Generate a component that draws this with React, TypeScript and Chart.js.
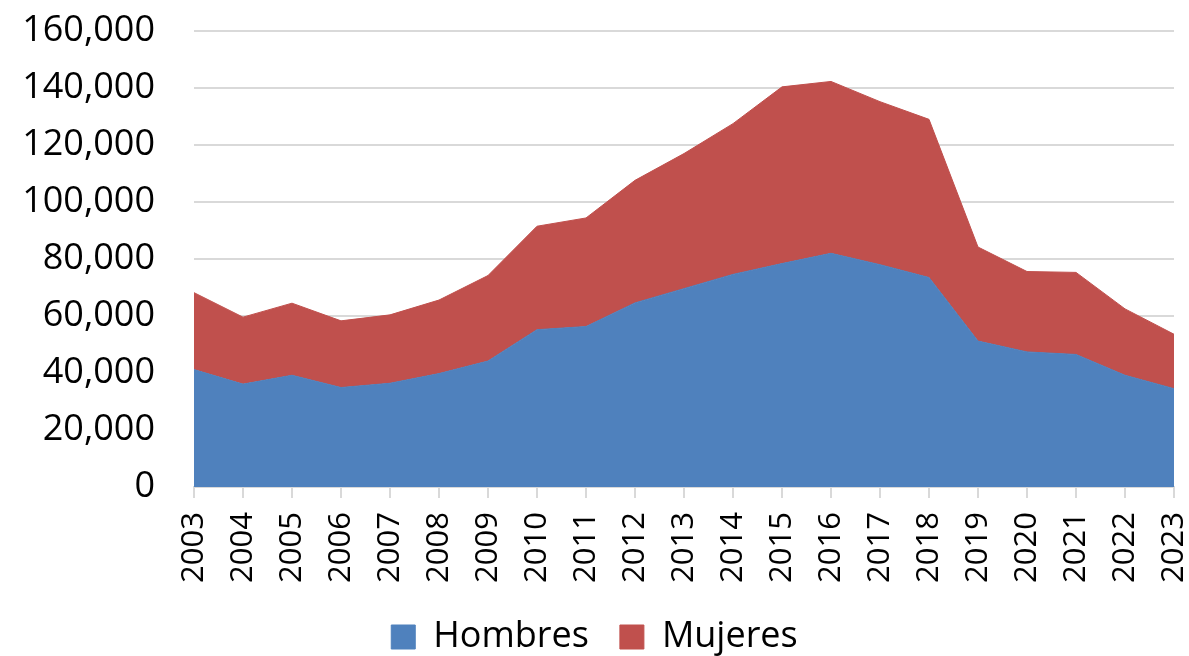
import React, { useEffect, useRef } from "react";
import { Chart, registerables } from "chart.js";

Chart.register(...registerables);

const years = ["2003","2004","2005","2006","2007","2008","2009","2010","2011","2012","2013","2014","2015","2016","2017","2018","2019","2020","2021","2022","2023"];
const hombres = [41200,36100,39200,34900,36400,39800,44200,55200,56300,64600,69600,74600,78400,82000,78000,73500,51200,47400,46500,39200,34500];
const mujeres = [27000,23500,25300,23400,24000,25800,30000,36300,38100,43000,47400,52900,62000,60300,57200,55500,33000,28200,28800,23300,19100];
const yTicks = [0,20000,40000,60000,80000,100000,120000,140000,160000];

const FONT = "'Open Sans', 'Lato', sans-serif";

export default function App() {
  const ref = useRef<HTMLCanvasElement | null>(null);
  useEffect(() => {
    if (!ref.current) return;
    const chart = new Chart(ref.current, {
      type: "line",
      data: {
        labels: years,
        datasets: [
          {
            label: "Hombres",
            data: hombres,
            backgroundColor: "#4F81BD",
            borderColor: "#4F81BD",
            borderWidth: 1,
            fill: "origin",
            pointRadius: 0,
            tension: 0,
          },
          {
            label: "Mujeres",
            data: mujeres,
            backgroundColor: "#C0504D",
            borderColor: "#C0504D",
            borderWidth: 1,
            fill: "-1",
            pointRadius: 0,
            tension: 0,
          },
        ],
      },
      options: {
        animation: false,
        responsive: false,
        maintainAspectRatio: false,
        layout: { padding: 0 },
        plugins: {
          tooltip: { enabled: false },
          legend: {
            position: "bottom",
            maxHeight: 68,
            labels: {
              boxWidth: 24,
              boxHeight: 24,
              padding: 31,
              color: "#000",
              font: { family: FONT, size: 36 },
            },
          },
        },
        scales: {
          x: {
            stacked: true,
            offset: false,
            grid: {
              drawOnChartArea: false,
              drawTicks: true,
              tickLength: 11,
              color: "#d9d9d9",
              lineWidth: 2,
            },
            border: { color: "#d9d9d9", width: 2 },
            ticks: {
              minRotation: 90,
              maxRotation: 90,
              color: "#000",
              padding: 14,
              autoSkip: false,
              font: { family: FONT, size: 31 },
            },
            afterFit: (scale: any) => {
              scale.height = 101;
              scale.paddingLeft = 0;
              scale.paddingRight = 15;
            },
          },
          y: {
            stacked: true,
            min: 0,
            max: 160000,
            afterBuildTicks: (scale: any) => {
              scale.ticks = yTicks.map((v) => ({ value: v }));
            },
            grid: { color: "#d9d9d9", lineWidth: 2, drawTicks: false },
            border: { display: false },
            ticks: {
              color: "#000",
              padding: 39,
              font: { family: FONT, size: 36 },
              callback: (v: any) => Number(v).toLocaleString("en-US"),
            },
            afterFit: (scale: any) => {
              scale.width = 194;
              scale.paddingTop = 31;
              scale.paddingBottom = 0;
            },
          },
        },
      },
    });
    return () => chart.destroy();
  }, []);
  return (
    <div style={{ position: "absolute", left: 0, top: 0, width: 1189, height: 656, background: "#fff" }}>
      <canvas ref={ref} width={1189} height={656} style={{ width: 1189, height: 656 }} />
    </div>
  );
}
